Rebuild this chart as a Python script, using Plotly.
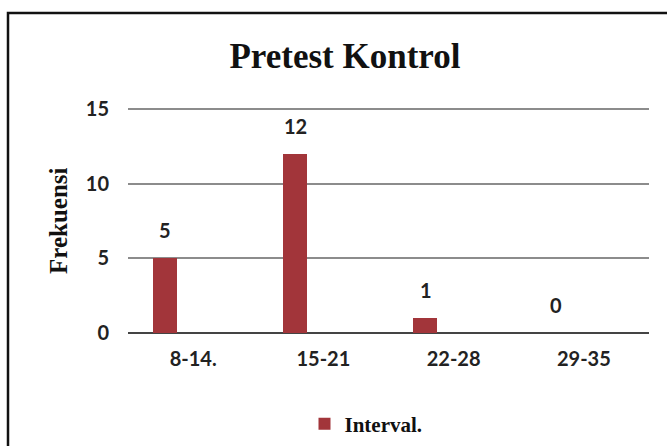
import plotly.graph_objects as go

# Frequency distribution of pretest scores, control group
categories = ["8-14.", "15-21", "22-28", "29-35"]
frekuensi = [5, 12, 1, 0]
series_name = "Interval."
y_ticks = [0, 5, 10, 15]

BAR_COLOR = "#A2353A"
W, H = 667, 446
L, R, T, B = 128, 18, 107, 113
PW = W - L - R
PH = H - T - B

def px_x(px):
    return (px - L) / PW

def px_y(py):
    return (H - B - py) / PH

fig = go.Figure()
fig.add_trace(go.Bar(
    x=categories,
    y=frekuensi,
    name=series_name,
    marker=dict(color=BAR_COLOR, line=dict(width=0)),
    width=0.185,
    offset=-0.31,
    showlegend=True,
))

# value labels above each bar
for c, v in zip(categories, frekuensi):
    fig.add_annotation(
        x=c, y=v, xref="x", yref="y",
        text=str(v), showarrow=False,
        xanchor="center", yanchor="bottom",
        xshift=-28, yshift=14,
        font=dict(family="Lato", size=20, color="#222222", weight="bold"),
    )

# axis title
fig.add_annotation(
    x=px_x(58), y=px_y(221), xref="paper", yref="paper",
    text="Frekuensi", textangle=-90, showarrow=False,
    xanchor="center", yanchor="middle",
    font=dict(family="Liberation Serif", size=25, color="#111111", weight="bold"),
)

# outer frame
fig.add_shape(
    type="rect", xref="paper", yref="paper",
    x0=px_x(8), x1=px_x(700), y0=px_y(480), y1=px_y(13),
    line=dict(color="#111111", width=2.5), fillcolor="rgba(0,0,0,0)",
    layer="below",
)

fig.update_layout(
    width=W, height=H,
    margin=dict(l=L, r=R, t=T, b=B, pad=0, autoexpand=False),
    paper_bgcolor="white", plot_bgcolor="white",
    title=dict(
        text="Pretest Kontrol",
        x=345 / W, xanchor="center",
        y=1 - 56 / H, yanchor="middle",
        font=dict(family="Liberation Serif", size=35, color="#111111", weight="bold"),
    ),
    showlegend=True,
    legend=dict(
        orientation="h",
        xref="container", yref="container",
        x=366 / W, xanchor="center",
        y=1 - 424 / H, yanchor="middle",
        font=dict(family="Liberation Serif", size=21, color="#111111", weight="bold"),
        itemwidth=30,
        bgcolor="rgba(0,0,0,0)",
    ),
    xaxis=dict(
        type="category",
        showgrid=False, showline=False, zeroline=False,
        ticks="",
        tickfont=dict(family="Lato", size=20, color="#222222", weight="bold"),
        ticklabelstandoff=12,
    ),
    yaxis=dict(
        range=[0, 15.15],
        tickvals=y_ticks,
        showgrid=True, gridcolor="#8c8c8c", gridwidth=2,
        zeroline=True, zerolinecolor="#444444", zerolinewidth=2,
        showline=False, ticks="",
        tickfont=dict(family="Lato", size=20, color="#222222", weight="bold"),
        ticklabelstandoff=18,
    ),
    bargap=0,
)

fig.write_html("out.html")
